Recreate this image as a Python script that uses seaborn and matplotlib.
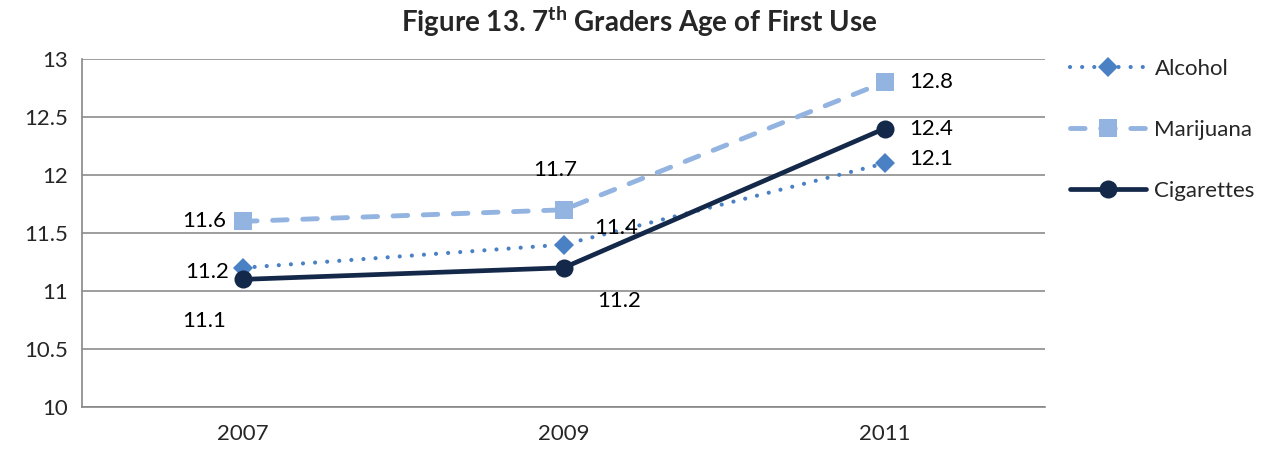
import matplotlib
matplotlib.use("Agg")
from matplotlib import pyplot as plt
import pandas as pd
import seaborn as sns

years = ["2007", "2009", "2011"]
alcohol = [11.2, 11.4, 12.1]
marijuana = [11.6, 11.7, 12.8]
cigarettes = [11.1, 11.2, 12.4]
series = ["Alcohol", "Marijuana", "Cigarettes"]

rows = []
for name, vals in zip(series, [alcohol, marijuana, cigarettes]):
    for i, v in enumerate(vals):
        rows.append({"pos": i, "year": years[i], "value": v, "drug": name})
df = pd.DataFrame(rows)

sns.set_theme(style="white")
plt.rcParams['font.family'] = ['Lato', 'DejaVu Sans']
plt.rcParams['mathtext.fontset'] = 'custom'
plt.rcParams['mathtext.bf'] = 'Lato:bold'
plt.rcParams['mathtext.rm'] = 'Lato'

colors = {"Alcohol": "#4a80c4", "Marijuana": "#93b4e0", "Cigarettes": "#14294a"}
markers = {"Alcohol": "D", "Marijuana": "s", "Cigarettes": "o"}
dashes = {"Alcohol": (0.01, 2.9), "Marijuana": (3.0, 3.2), "Cigarettes": ""}
msizes = {"Alcohol": 10, "Marijuana": 13, "Cigarettes": 13}
widths = {"Alcohol": 3.0, "Marijuana": 3.5, "Cigarettes": 3.4}

fig = plt.figure(figsize=(12.71, 4.55), dpi=100)
ax = fig.add_axes([82 / 1271, 1 - 407 / 455, (1045 - 82) / 1271, (407 - 59) / 455])

for name in series:
    sub = df[df["drug"] == name]
    sns.lineplot(data=sub, x="pos", y="value", ax=ax, color=colors[name],
                 linewidth=widths[name], marker=markers[name], markersize=msizes[name],
                 markeredgewidth=0, label=name, legend=False,
                 dash_capstyle="round", solid_capstyle="round")
for line, name in zip(ax.get_lines(), series):
    if dashes[name]:
        line.set_dashes(dashes[name])

# data labels (offsets in points, mimicking Excel's placement)
offs = {
    "Alcohol": [(-10, -3, "right"), (22, 12, "left"), (18, 3, "left")],
    "Marijuana": [(-12, 0, "right"), (10, 29, "right"), (18, 0, "left")],
    "Cigarettes": [(-12, -30, "right"), (24, -24, "left"), (18, 0, "left")],
}
for name, vals in zip(series, [alcohol, marijuana, cigarettes]):
    for i, v in enumerate(vals):
        dx, dy, ha = offs[name][i]
        ax.annotate(f"{v:.1f}", (i, v), xytext=(dx, dy), textcoords="offset points",
                    ha=ha, va="center", fontsize=16, color="black")

ax.set_xlim(-0.5, 2.5)
ax.set_ylim(10, 13)
ax.set_yticks([10, 10.5, 11, 11.5, 12, 12.5, 13])
ax.set_yticklabels(["10", "10.5", "11", "11.5", "12", "12.5", "13"], fontsize=16)
ax.set_xticks([0, 1, 2])
ax.set_xticklabels(years, fontsize=16)
ax.set_xticks([-0.5, 0.5, 1.5, 2.5], minor=True)
ax.tick_params(axis="x", which="major", length=0, pad=12)
ax.tick_params(axis="x", which="minor", length=6, color="#888888", width=1.2, direction="out")
ax.tick_params(axis="y", length=6, color="#888888", width=1.2, direction="out", pad=4)
ax.yaxis.grid(True, color="#8c8c8c", linewidth=1.2)
ax.xaxis.grid(False)
ax.set_axisbelow(True)
for s in ["top", "right"]:
    ax.spines[s].set_visible(False)
for s in ["left", "bottom"]:
    ax.spines[s].set_color("#888888")
    ax.spines[s].set_linewidth(1.2)
ax.set_xlabel("")
ax.set_ylabel("")

handles = ax.get_lines()[:3]
fig.legend(handles, series, loc="upper left", bbox_to_anchor=(1050 / 1271, 1 - 39 / 455),
           frameon=False, fontsize=16, labelspacing=1.85, handlelength=3.4, handletextpad=0.4)

fig.text(0.503, 1 - 22 / 455, r"Figure 13. 7$^{\bf th}$ Graders Age of First Use",
         ha="center", va="center", fontsize=20, fontweight="bold")

fig.savefig("out.png", dpi=100)
